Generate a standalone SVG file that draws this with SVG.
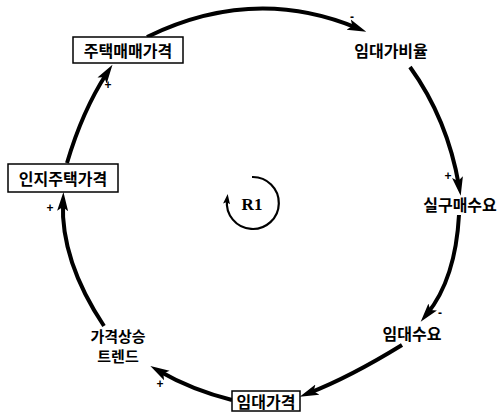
<svg xmlns="http://www.w3.org/2000/svg" width="500" height="419" viewBox="0 0 500 419">
<style>
.lbl{font-family:"Noto Sans CJK KR","Noto Sans",sans-serif;font-weight:bold;font-size:16px;fill:#000;text-anchor:middle;dominant-baseline:central}
.sm{font-size:15px}
.box{fill:#fff;stroke:#000;stroke-width:1.5}
.link{fill:none;stroke:#000;stroke-width:4}
.pol{font-family:"Liberation Sans",sans-serif;font-weight:bold;font-size:12px;fill:#000;text-anchor:middle;dominant-baseline:central}
.loop{fill:none;stroke:#000;stroke-width:2.2}
</style>
<defs>
<marker id="ah" markerUnits="userSpaceOnUse" markerWidth="22" markerHeight="14" viewBox="0 -7 22 14" refX="9" refY="0" orient="auto">
<path d="M0,-5.5 L19,0 L0,5.5 L4,0 z" fill="#000"/>
</marker>
<marker id="ahs" markerUnits="userSpaceOnUse" markerWidth="12" markerHeight="10" viewBox="0 -5 12 10" refX="4" refY="0" orient="auto">
<path d="M0,-3.5 L10,0 L0,3.5 L2,0 z" fill="#000"/>
</marker>
</defs>
<rect width="500" height="419" fill="#fff"/>
<g id="connectors">
<path class="link" d="M147,37 Q253.5,-15 357,28" marker-end="url(#ah)"/>
<path class="link" d="M410,67 Q447.5,119 459,186" marker-end="url(#ah)"/>
<path class="link" d="M459,215 Q455.5,279 427,314" marker-end="url(#ah)"/>
<path class="link" d="M402,345 Q350,377 309,393" marker-end="url(#ah)"/>
<path class="link" d="M232,400 Q192,390 159,371" marker-end="url(#ah)"/>
<path class="link" d="M104,326 Q60.5,260.5 63,202" marker-end="url(#ah)"/>
<path class="link" d="M67,163 Q82.5,110.5 107,73" marker-end="url(#ah)"/>
<text class="pol" x="352" y="17">-</text>
<text class="pol" x="448" y="176">+</text>
<text class="pol" x="440" y="313">-</text>
<text class="pol" x="160" y="384">+</text>
<text class="pol" x="50" y="208">+</text>
<text class="pol" x="108" y="85">+</text>
</g>
<g id="n_house_price">
<rect class="box" x="73" y="37" width="110" height="26"/>
<text class="lbl" x="128" y="50">주택매매가격</text>
</g>
<g id="n_rent_ratio">
<text class="lbl" x="391" y="50">임대가비율</text>
</g>
<g id="n_buy_demand">
<text class="lbl" x="460" y="204">실구매수요</text>
</g>
<g id="n_rent_demand">
<text class="lbl" x="412" y="333">임대수요</text>
</g>
<g id="n_rent_price">
<rect class="box" x="232" y="391" width="68" height="20"/>
<text class="lbl" x="266" y="401">임대가격</text>
</g>
<g id="n_trend">
<text class="lbl sm" x="118" y="335">가격상승</text>
<text class="lbl sm" x="118" y="355">트렌드</text>
</g>
<g id="n_perceived">
<rect class="box" x="8" y="164" width="110" height="28"/>
<text class="lbl" x="63" y="178">인지주택가격</text>
</g>
<g id="loop_R1">
<path class="loop" d="M252,177 A26,26 0 1 1 227,200" marker-end="url(#ahs)"/>
<text x="252" y="204" style="font-family:'Liberation Serif',serif;font-weight:bold;font-size:17px;text-anchor:middle;dominant-baseline:central">R1</text>
</g>
</svg>
